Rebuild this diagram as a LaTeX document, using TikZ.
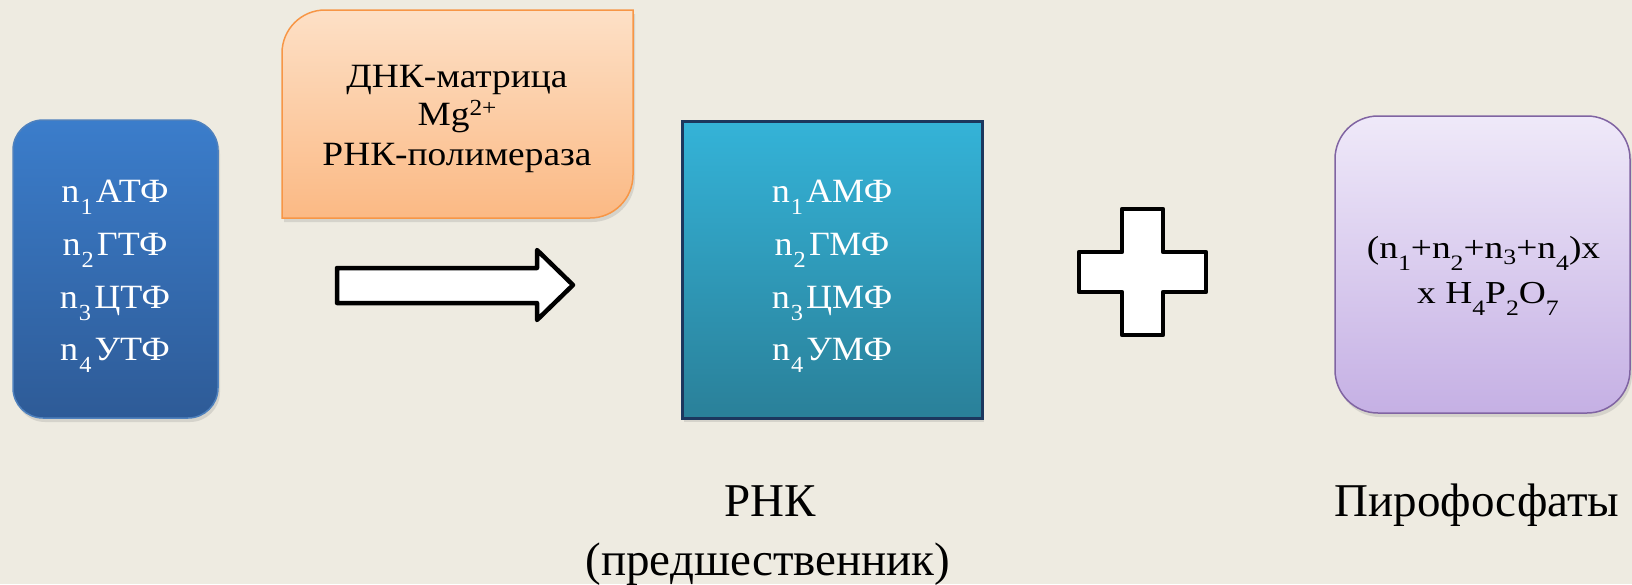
\documentclass[tikz,border=0pt]{standalone}
\usepackage{fontspec}
\setmainfont{Liberation Serif}
\usetikzlibrary{shadows}

\definecolor{paper}{HTML}{EEEBE1}
\definecolor{blueTop}{HTML}{3B7DCB}
\definecolor{blueBot}{HTML}{2E5B97}
\definecolor{blueEdge}{HTML}{4F81BD}
\definecolor{peachTop}{HTML}{FDE0C6}
\definecolor{peachBot}{HTML}{FBB984}
\definecolor{peachEdge}{HTML}{F79646}
\definecolor{tealTop}{HTML}{34B3D8}
\definecolor{tealBot}{HTML}{2A8099}
\definecolor{tealEdge}{HTML}{1C375E}
\definecolor{lilacTop}{HTML}{EFE9F9}
\definecolor{lilacBot}{HTML}{C5B0E4}
\definecolor{lilacEdge}{HTML}{8064A2}

% shifted small figures for chemical indices
\newcommand\shifted[3]{\raisebox{#2}{\fontsize{#1}{#1}\selectfont #3}}
\newcommand\ia[1]{\kern1pt\shifted{23}{-12pt}{#1}\kern3pt}
\newcommand\ib[1]{\shifted{22}{-12pt}{#1}}
\newcommand\ic[1]{\shifted{22}{-6pt}{#1}}
\newcommand\charge[1]{\shifted{23}{10pt}{#1}}
% slightly widened lines of text
\newcommand\wide[2]{\scalebox{#1}[1]{#2}}

\tikzset{
  panel/.style={drop shadow={opacity=0.22, shadow xshift=2pt, shadow yshift=-4pt}},
  boxtext/.style={font=\fontsize{34}{40}\selectfont, anchor=base, inner sep=0pt},
  lilactext/.style={font=\fontsize{32}{36}\selectfont, anchor=base, inner sep=0pt},
  caption/.style={font=\fontsize{47}{56}\selectfont, anchor=base, inner sep=0pt},
  blockshape/.style={draw=black, fill=white, line width=4.5pt, line join=round},
}

\begin{document}
\begin{tikzpicture}[x=1pt, y=-1pt]
  \fill[paper] (0,0) rectangle (1632,584);
  \useasboundingbox (0,0) rectangle (1632,584);

  % substrates
  \node[panel, draw=blueEdge, line width=1.5pt, top color=blueTop, bottom color=blueBot,
        rounded corners=30pt, minimum width=205pt, minimum height=298pt, inner sep=0pt]
        (ntp) at (115.5,269) {};
  \node[boxtext, white] (ntp1) at (115,202) {\wide{1.06}{n\ia{1}АТФ}};
  \node[boxtext, white] (ntp2) at (115,255) {\wide{1.06}{n\ia{2}ГТФ}};
  \node[boxtext, white] (ntp3) at (115,308) {\wide{1.06}{n\ia{3}ЦТФ}};
  \node[boxtext, white] (ntp4) at (115,360) {\wide{1.06}{n\ia{4}УТФ}};

  % reaction conditions
  \path[panel, draw=peachEdge, line width=1.5pt, top color=peachTop, bottom color=peachBot]
    (282,218) -- (282,53) .. controls (282,29.3) and (301.3,10) .. (325,10)
    -- (633,10) -- (633,175) .. controls (633,198.7) and (613.7,218) .. (590,218) -- cycle;
  \node[boxtext] (cond1) at (457,87) {\wide{1.1}{ДНК-матрица}};
  \node[boxtext] (cond2) at (457,125) {\wide{1.1}{Mg\charge{2+}}};
  \node[boxtext] (cond3) at (457,165) {\wide{1.1}{РНК-полимераза}};

  % block arrow
  \draw[blockshape] (337,268) -- (537,268) -- (537,250) -- (573,285) -- (537,320)
    -- (537,303) -- (337,303) -- cycle;

  % product RNA
  \node[panel, draw=tealEdge, line width=3pt, top color=tealTop, bottom color=tealBot,
        minimum width=300pt, minimum height=297pt, inner sep=0pt]
        (rna) at (832,269.5) {};
  \node[boxtext, white] (nmp1) at (832,202) {\wide{1.06}{n\ia{1}АМФ}};
  \node[boxtext, white] (nmp2) at (832,255) {\wide{1.06}{n\ia{2}ГМФ}};
  \node[boxtext, white] (nmp3) at (832,308) {\wide{1.06}{n\ia{3}ЦМФ}};
  \node[boxtext, white] (nmp4) at (832,360) {\wide{1.06}{n\ia{4}УМФ}};

  % plus sign
  \draw[blockshape] (1122,209) -- (1163,209) -- (1163,252) -- (1206,252) -- (1206,292)
    -- (1163,292) -- (1163,335) -- (1122,335) -- (1122,292) -- (1079,292)
    -- (1079,252) -- (1122,252) -- cycle;

  % pyrophosphate
  \node[panel, draw=lilacEdge, line width=1.5pt, top color=lilacTop, bottom color=lilacBot,
        rounded corners=43pt, minimum width=295pt, minimum height=297pt, inner sep=0pt]
        (ppi) at (1482.5,264.5) {};
  \node[lilactext] (ppi1) at (1483.5,258) {\wide{1.17}{(n\ib{1}+n\ib{2}+n\ic{3}+n\ib{4})x}};
  \node[lilactext] (ppi2) at (1488,303) {\wide{1.17}{x H\ib{4}P\ib{2}O\ib{7}}};

  % captions
  \node[caption] (rnalabel) at (770,516) {РНК};
  \node[caption] (rnaprec) at (768,575) {(предшественник)};
  \node[caption] (ppilabel) at (1477,516) {Пирофосфаты};
\end{tikzpicture}
\end{document}
